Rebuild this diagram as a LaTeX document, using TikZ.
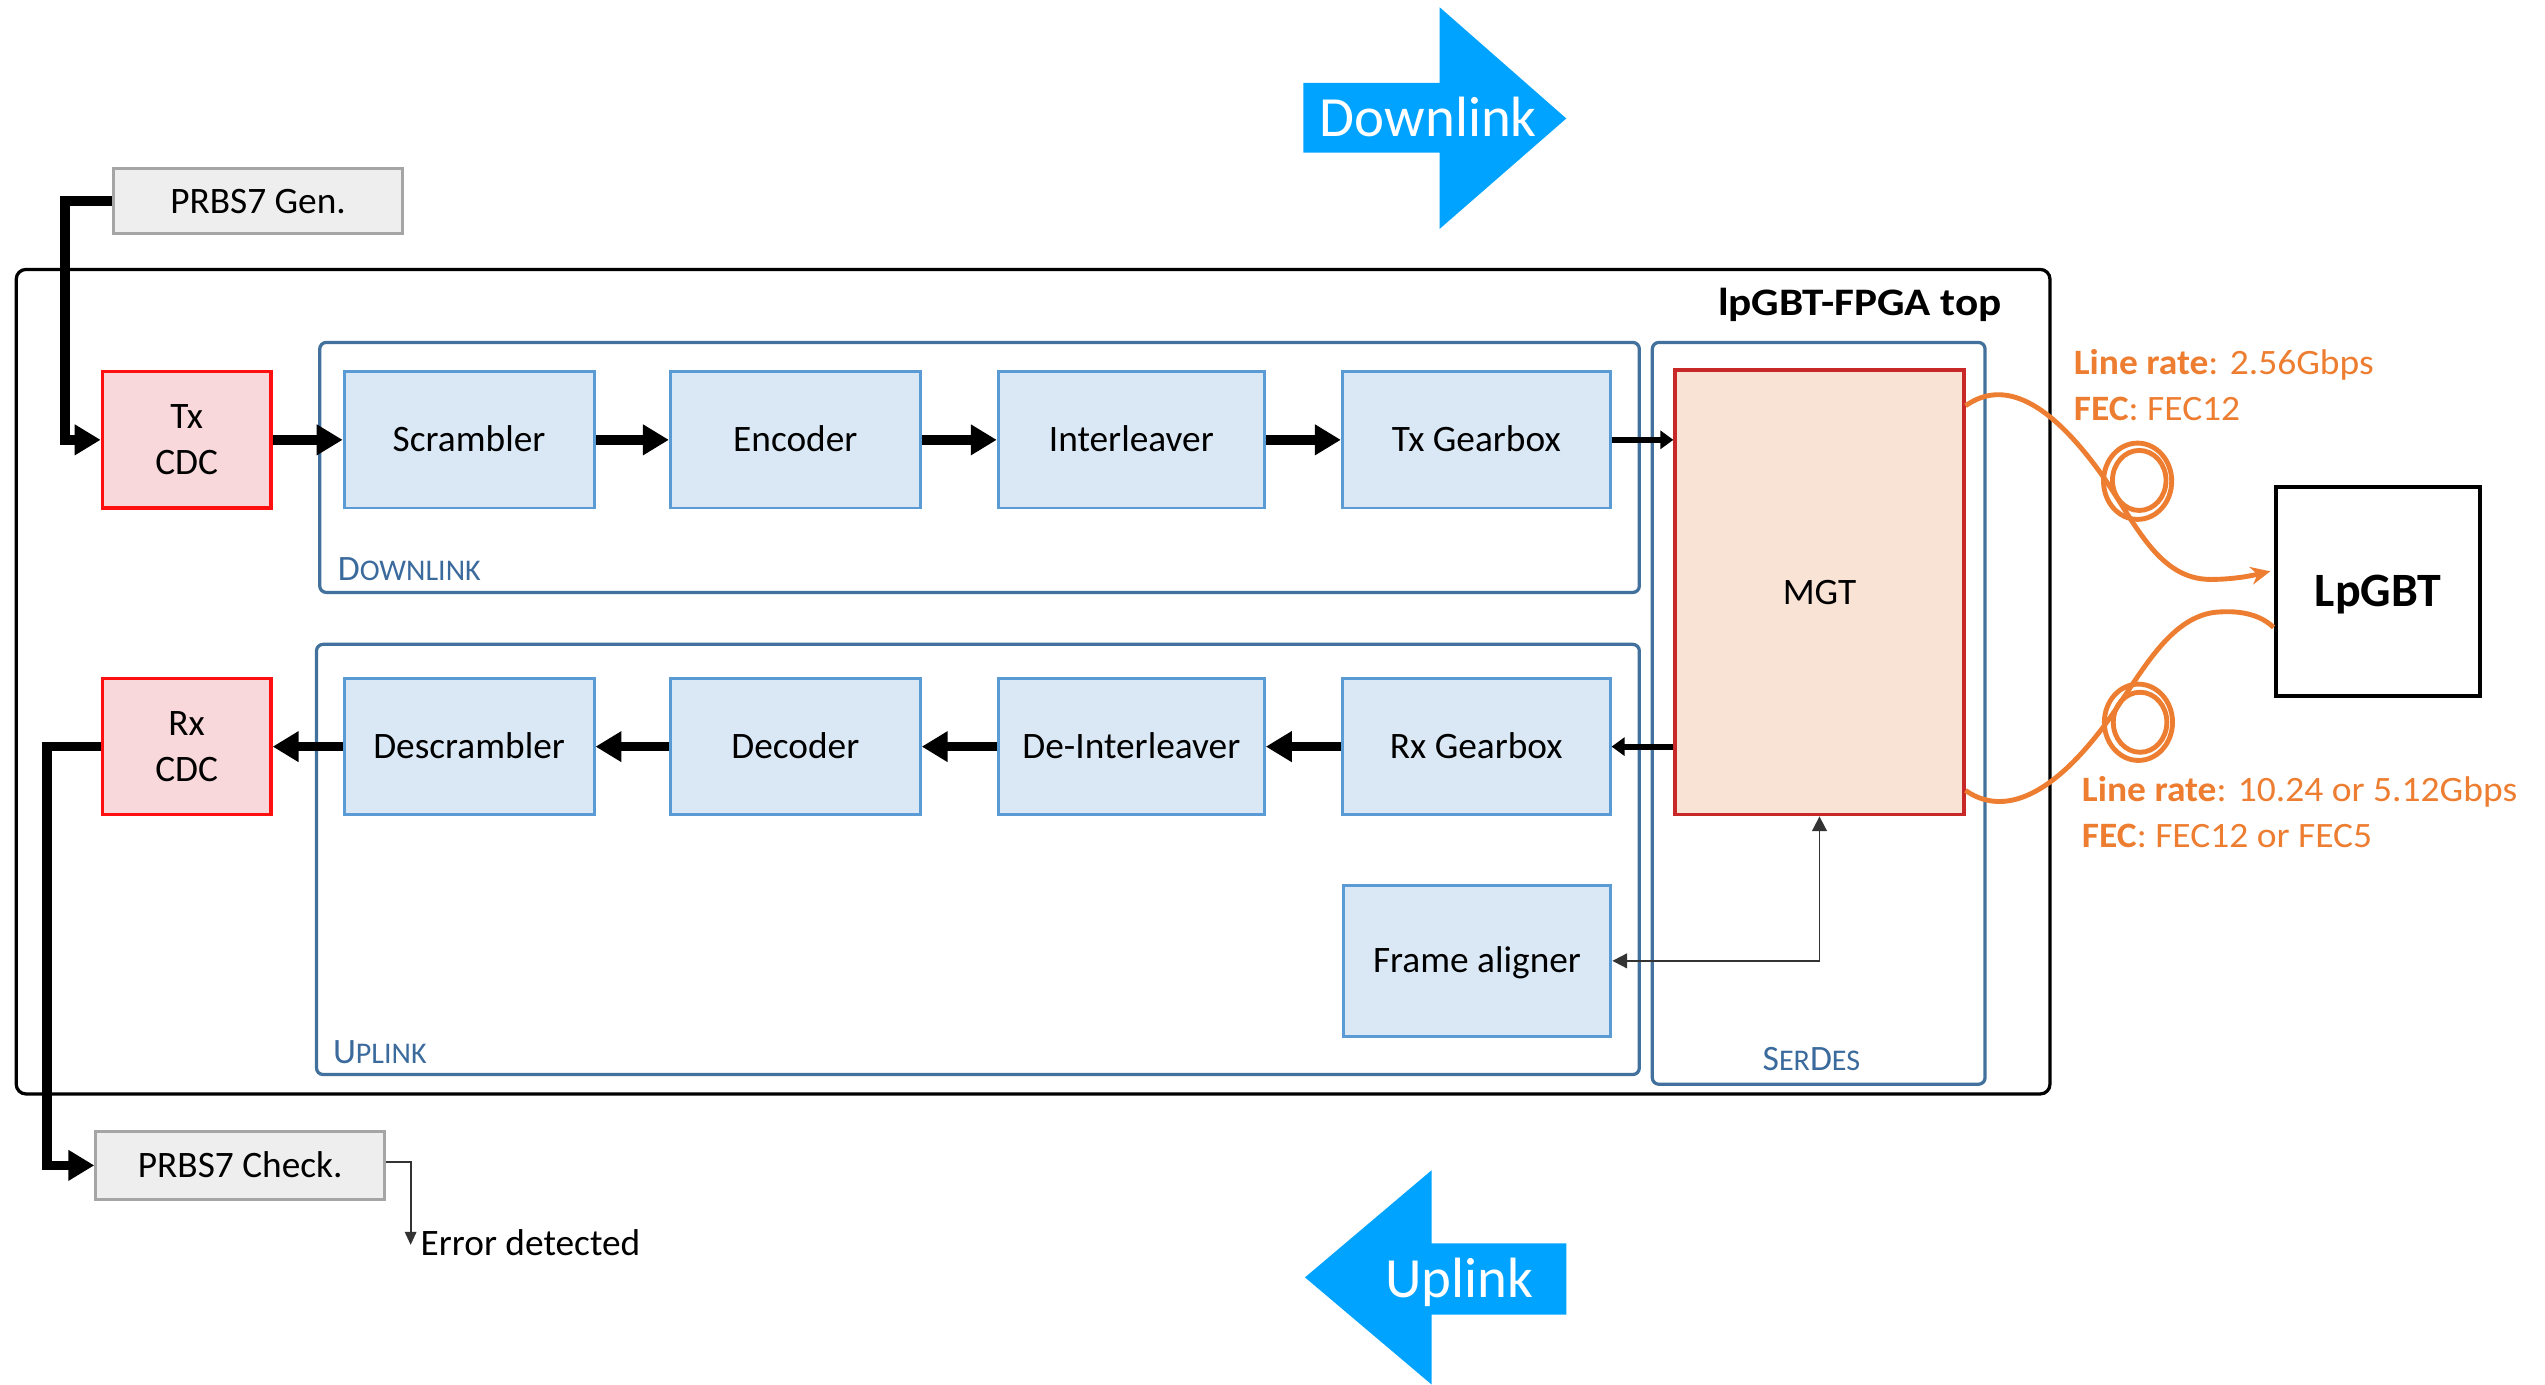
\documentclass[tikz,border=0pt]{standalone}
\usepackage{fontspec}
\setmainfont{Carlito}
\newfontfamily\widefont{Carlito}[FakeStretch=1.11]
\newfontfamily\labelfont{Carlito}[FakeStretch=1.05]
\usetikzlibrary{arrows.meta,calc}

\definecolor{blkfill}{HTML}{DAE8F5}
\definecolor{blkdraw}{HTML}{5B9BD5}
\definecolor{grpdraw}{HTML}{41719C}
\definecolor{grptext}{HTML}{3B6A9C}
\definecolor{cdcfill}{HTML}{F8D8DA}
\definecolor{cdcdraw}{HTML}{FF1010}
\definecolor{mgtfill}{HTML}{F8E3D5}
\definecolor{mgtdraw}{HTML}{C82828}
\definecolor{genfill}{HTML}{EEEEEE}
\definecolor{gendraw}{HTML}{A5A5A5}
\definecolor{fibercol}{HTML}{ED7D31}
\definecolor{dirblue}{HTML}{00A3FF}

\newcommand{\bigsc}[1]{{\fontsize{22}{24}\selectfont #1}}
\newcommand{\smlsc}[1]{{\fontsize{18.5}{22}\selectfont #1}}

\begin{document}
\begin{tikzpicture}[x=1pt,y=-1pt,
  every node/.style={inner sep=0pt},
  blk/.style={draw=blkdraw, fill=blkfill, line width=1.8pt,
    minimum width=#1, minimum height=84pt,
    text height=14.5pt, text depth=0pt, font=\fontsize{23}{28}\selectfont},
  cdc/.style={draw=cdcdraw, fill=cdcfill, line width=2pt,
    minimum width=104pt, minimum height=84pt, align=center,
    font=\fontsize{23}{28}\selectfont},
  prbs/.style={draw=gendraw, fill=genfill, line width=1.8pt,
    minimum width=178pt, minimum height=#1,
    text height=14.5pt, text depth=0pt, font=\fontsize{23}{28}\selectfont},
  grp/.style={draw=grpdraw, line width=2pt, rounded corners=4pt},
  grplabel/.style={text=grptext, anchor=base west},
  bigarr/.style={line width=6pt, -{Triangle[length=16pt,width=18pt]}},
  midarr/.style={line width=3.6pt, -{Triangle[length=8pt,width=11pt]}},
  thinarr/.style={line width=1.2pt, draw=black!80},
  fiberline/.style={draw=fibercol, line width=3pt},
  orangelab/.style={text=fibercol, anchor=base west, font=\labelfont\fontsize{22}{26}\selectfont},
  dirtext/.style={text=white, font=\fontsize{35}{40}\selectfont, text height=22.5pt, text depth=0pt}
]
\useasboundingbox (0,0) rectangle (1568,853);

% --- direction arrows -------------------------------------------------
\fill[dirblue] (803,51) -- (887,51) -- (887,4.5) -- (965,73) -- (887,141)
  -- (887,94) -- (803,94) -- cycle;
\node[dirtext] (dltext) at (880,73) {Downlink};
\fill[dirblue] (804,787) -- (882,721) -- (882,766) -- (965,766) -- (965,810)
  -- (882,810) -- (882,853) -- cycle;
\node[dirtext] (ultext) at (899,788) {Uplink};

% --- outer frame and groups ------------------------------------------
\node[draw=black, line width=2pt, rounded corners=6pt,
  minimum width=1253pt, minimum height=508pt] (top) at (636.5,420) {};
\node[anchor=base east, font=\widefont\bfseries\fontsize{24}{28}\selectfont] (title)
  at (1233.5,194.5) {lpGBT-FPGA top};

\node[grp, minimum width=813pt, minimum height=154pt] (dl) at (603.5,288) {};
\node[grp, minimum width=815pt, minimum height=265pt] (ul) at (602.5,529.5) {};
\node[grp, minimum width=205pt, minimum height=457pt] (sd) at (1120.5,439.5) {};

\node[grplabel] (dllab) at (208,357.5) {\bigsc{D}\smlsc{OWNLINK}};
\node[grplabel] (ullab) at (205,655) {\bigsc{U}\smlsc{PLINK}};
\node[grplabel, anchor=base] (sdlab) at (1116,659.5) {\bigsc{S}\smlsc{ER}\bigsc{D}\smlsc{ES}};

% --- blocks -----------------------------------------------------------
\node[cdc] (txcdc) at (115,271) {Tx\\CDC};
\node[cdc] (rxcdc) at (115,460) {Rx\\CDC};

\node[blk=154pt] (scr)   at (289,271)   {Scrambler};
\node[blk=154pt] (enc)   at (490,271)   {Encoder};
\node[blk=164pt] (intl)  at (697,271)   {Interleaver};
\node[blk=165pt] (txgb)  at (909.5,271) {Tx Gearbox};

\node[blk=154pt] (dscr)  at (289,460)   {Descrambler};
\node[blk=154pt] (dec)   at (490,460)   {Decoder};
\node[blk=164pt] (dintl) at (697,460)   {De-Interleaver};
\node[blk=165pt] (rxgb)  at (909.5,460) {Rx Gearbox};

\node[blk=165pt, minimum height=93pt] (fa) at (910,592) {Frame aligner};

\node[draw=mgtdraw, fill=mgtfill, line width=2pt, minimum width=178pt,
  minimum height=274pt, text height=14.5pt, text depth=0pt,
  font=\fontsize{23}{28}\selectfont] (mgt) at (1121,365) {MGT};

\node[draw=black, line width=2.5pt, minimum width=126pt, minimum height=129pt,
  text height=18.3pt, text depth=0pt, font=\bfseries\fontsize{29.5}{34}\selectfont]
  (lpgbt) at (1465,364.5) {LpGBT};

\node[prbs=40pt] (gen) at (159,124) {PRBS7 Gen.};
\node[prbs=42pt] (chk) at (148,718) {PRBS7 Check.};
\node[anchor=west, text height=14.5pt, text depth=0pt,
  font=\fontsize{23}{28}\selectfont] (err) at (259,766) {Error detected};

% --- data path --------------------------------------------------------
\draw[bigarr] (gen.west) -- ++(-29pt,0) |- (txcdc.west);
\draw[bigarr] (txcdc.east) -- (scr.west);
\draw[bigarr] (scr.east) -- (enc.west);
\draw[bigarr] (enc.east) -- (intl.west);
\draw[bigarr] (intl.east) -- (txgb.west);
\draw[midarr] (txgb.east) -- (txgb.east -| mgt.west);

\draw[midarr] (rxgb.east -| mgt.west) -- (rxgb.east);
\draw[bigarr] (rxgb.west) -- (dintl.east);
\draw[bigarr] (dintl.west) -- (dec.east);
\draw[bigarr] (dec.west) -- (dscr.east);
\draw[bigarr] (dscr.west) -- (rxcdc.east);
\draw[bigarr] (rxcdc.west) -- ++(-33pt,0) |- (chk.west);

\draw[thinarr, {Triangle[length=9pt,width=9pt]}-{Triangle[length=9pt,width=9pt]}]
  (fa.east) -| (mgt.south);

\coordinate (errtip) at (253,767);
\draw[thinarr, -{Triangle[length=8pt,width=7pt]}] ([yshift=2pt]chk.east) -| (errtip);

% --- optical fibres ---------------------------------------------------
\coordinate (f1s) at ($(mgt.east)+(0,-115)$);
\coordinate (f1e) at ($(lpgbt.west)+(-2,-12.5)$);
\coordinate (f2s) at ($(lpgbt.west)+(0,22)$);
\coordinate (f2e) at ($(mgt.east)+(0,122)$);

\draw[fiberline, -{Stealth[length=12pt,width=11pt]}] (f1s)
  .. controls (1228,238) and (1255,236) .. (1296,294)
  .. controls (1316,323) and (1330,357) .. (1362,357)
  .. controls (1378,357) and (1390,354) .. (f1e);
\draw[fiberline] (1317,296.5) ellipse [x radius=21pt, y radius=23.5pt];
\draw[fiberline] (1318,296) ellipse [x radius=16.5pt, y radius=18.5pt];

\draw[fiberline] (f2s)
  .. controls (1395,381) and (1385,376) .. (1368,377)
  .. controls (1335,378) and (1316.5,421) .. (1295,449)
  .. controls (1256,500) and (1228,499) .. (f2e);
\draw[fiberline] (1317.5,445) ellipse [x radius=21pt, y radius=23.5pt];
\draw[fiberline] (1318.5,445) ellipse [x radius=16.5pt, y radius=18.5pt];

\node[orangelab] (lr1)  at (1277.5,230.7) {\textbf{Line rate}: 2.56Gbps};
\node[orangelab] (fec1) at (1277.5,259)   {\textbf{FEC}: FEC12};
\node[orangelab] (lr2)  at (1282.5,494)   {\textbf{Line rate}: 10.24 or 5.12Gbps};
\node[orangelab] (fec2) at (1282.5,522)   {\textbf{FEC}: FEC12 or FEC5};
\end{tikzpicture}
\end{document}
